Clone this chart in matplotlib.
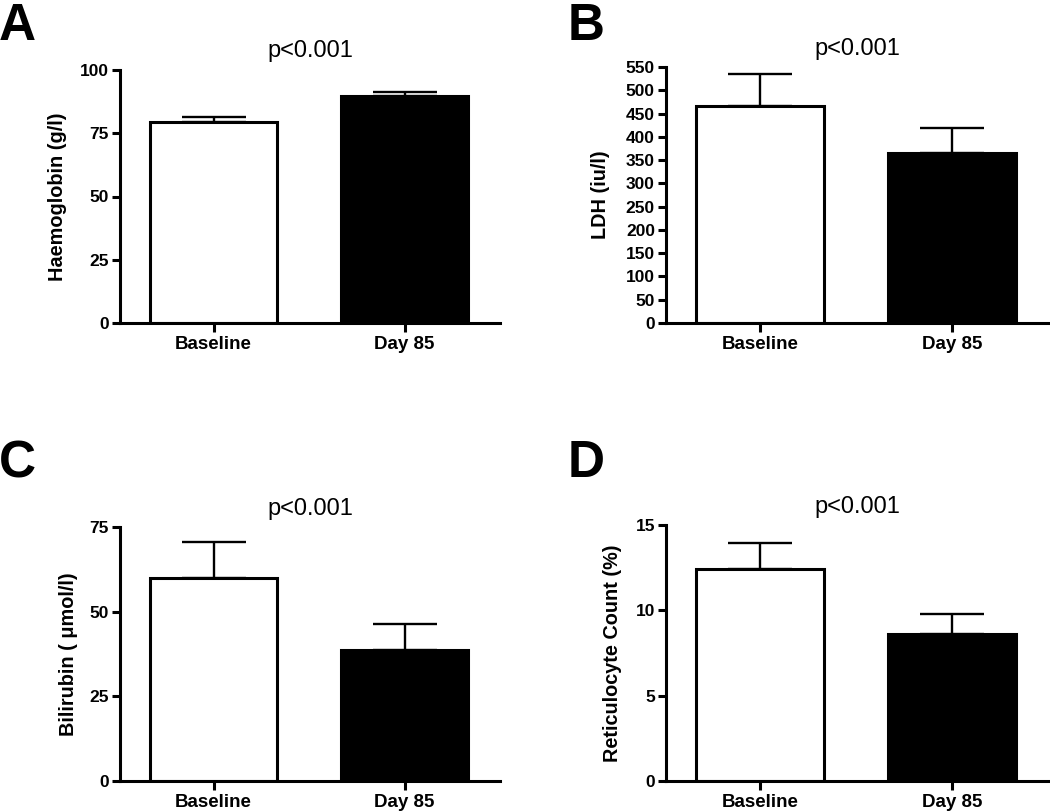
import matplotlib
matplotlib.use("Agg")
import matplotlib.pyplot as plt

plt.rcParams['font.family'] = ['Liberation Sans', 'DejaVu Sans']

categories = ["Baseline", "Day 85"]
panel_letters = ["A", "B", "C", "D"]
titles = ["p<0.001", "p<0.001", "p<0.001", "p<0.001"]
ylabels = ["Haemoglobin (g/l)", "LDH (iu/l)", "Bilirubin ( \u03bcmol/l)", "Reticulocyte Count (%)"]

haemoglobin_mean = [79.4, 89.8]
haemoglobin_err = [1.9, 1.5]
ldh_mean = [466, 366]
ldh_err = [70, 53]
bilirubin_mean = [59.8, 38.8]
bilirubin_err = [10.9, 7.7]
retic_mean = [12.42, 8.62]
retic_err = [1.54, 1.18]

yticks_A = [0, 25, 50, 75, 100]
yticks_B = list(range(0, 551, 50))
yticks_C = [0, 25, 50, 75]
yticks_D = [0, 5, 10, 15]

means = [haemoglobin_mean, ldh_mean, bilirubin_mean, retic_mean]
errs = [haemoglobin_err, ldh_err, bilirubin_err, retic_err]
yticks = [yticks_A, yticks_B, yticks_C, yticks_D]
bar_colors = ["white", "black"]

W, H = 1050, 811
fig = plt.figure(figsize=(W / 100, H / 100), dpi=100)

# axes boxes in pixels: left, top, right, bottom
boxes = [(120, 70, 500, 323), (666, 67, 1048, 323), (120, 527, 500, 781), (666, 525, 1048, 781)]
label_x = [-0.139, -0.147, -0.11, -0.115]
letter_pos = [(-1, 2), (568, 2), (-1, 439), (568, 439)]
lw = 2.2

for i in range(4):
    l, t, r, b = boxes[i]
    ax = fig.add_axes([l / W, (H - b) / H, (r - l) / W, (b - t) / H])
    x = [0, 1]
    ax.errorbar(x, means[i], yerr=[[0, 0], errs[i]], fmt='none', ecolor='black',
                elinewidth=1.7, capsize=23, capthick=1.7, zorder=1)
    ax.bar(x, means[i], width=0.665, color=bar_colors, edgecolor='black', linewidth=lw, zorder=2)
    ax.set_xlim(-0.49, 1.50)
    ax.set_ylim(yticks[i][0], yticks[i][-1])
    ax.set_yticks(yticks[i])
    ax.set_xticks(x)
    ax.set_xticklabels(categories, fontsize=13.5, fontweight='bold')
    for lab in ax.get_yticklabels():
        lab.set_fontsize(12.5)
        lab.set_fontweight('bold')
    ax.tick_params(axis='both', direction='out', length=6, width=lw, pad=2)
    ax.tick_params(axis='x', length=6.5, pad=3)
    for s in ['top', 'right']:
        ax.spines[s].set_visible(False)
    for s in ['left', 'bottom']:
        ax.spines[s].set_linewidth(lw)
    ax.set_ylabel(ylabels[i], fontsize=14.3, fontweight='bold')
    ax.yaxis.set_label_coords(label_x[i], 0.5)
    ax.set_title(titles[i], fontsize=17, pad=9)
    lx, ly = letter_pos[i]
    fig.text(lx / W, 1 - ly / H, panel_letters[i], fontsize=37, fontweight='bold',
             ha='left', va='top')

fig.savefig("out.png", dpi=100)
